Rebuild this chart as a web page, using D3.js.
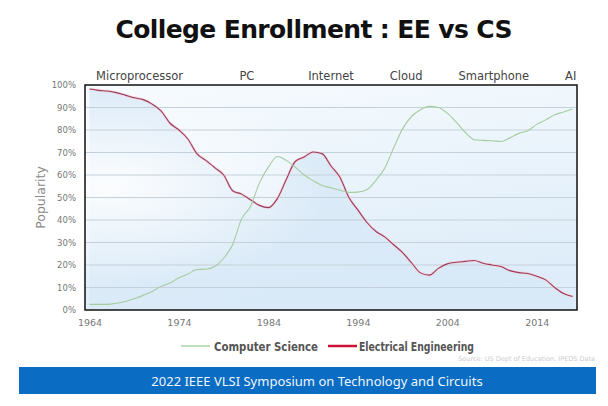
<!DOCTYPE html>
<html>
<head>
<meta charset="utf-8">
<script src="https://cdn.jsdelivr.net/npm/d3@7"></script>
<style>
  body { margin: 0; background: #fff; }
  svg { display: block; }
</style>
</head>
<body>
<script>
// data (percent of enrollment, by year)
var years = d3.range(1964, 2019);
var eeValues = [98.2, 97.6, 97.3, 96.6, 95.5, 94.3, 93.5, 91.5, 88.5, 83,
  80, 76, 69.5, 66.5, 63.3, 60, 53, 51.5, 49, 46.5,
  45.5, 49.5, 58, 66, 68, 70.2, 69.5, 64, 59, 50,
  44.5, 39, 35, 32.5, 29, 25.5, 21, 16.5, 15.5, 18.5,
  20.5, 21.2, 21.6, 22, 20.8, 20, 19.3, 17.5, 16.6, 16.2,
  15, 13.4, 10, 7.3, 6];
var csValues = [2.5, 2.5, 2.5, 3, 3.8, 5, 6.5, 8.2, 10.5, 12,
  14.3, 16, 18, 18.1, 19.3, 23, 29, 40.5, 46, 56.5,
  63.5, 68.2, 66.5, 63.5, 60, 57.5, 55.3, 54.3, 53.2, 52.3,
  52.4, 53.4, 57.5, 63, 72, 80.5, 86, 89, 90.5, 90,
  87.5, 83.5, 79, 75.7, 75.4, 75.2, 74.9, 76.5, 78.5, 79.7,
  82.5, 84.5, 86.8, 88, 89.3];
var xTicks = [1964, 1974, 1984, 1994, 2004, 2014];
var yTicks = [0, 10, 20, 30, 40, 50, 60, 70, 80, 90, 100];
var eras = ["Microprocessor", "PC", "Internet", "Cloud", "Smartphone", "AI"];
var eraYears = [1969.6, 1981.6, 1991, 1999.4, 2009.2, 2017.8];

var W = 608, H = 406;
var pLeft = 85, pRight = 577, pTop = 85, pBottom = 310;

var svg = d3.select("body").append("svg")
  .attr("width", W)
  .attr("height", H)
  .style("font-family", "'DejaVu Sans', sans-serif");

var defs = svg.append("defs");
var bg = defs.append("linearGradient").attr("id", "bg")
  .attr("x1", 0).attr("y1", 0).attr("x2", 0.3).attr("y2", 1);
bg.append("stop").attr("offset", "0%").attr("stop-color", "#f7fbfe");
bg.append("stop").attr("offset", "100%").attr("stop-color", "#deedf9");
var glow = defs.append("radialGradient").attr("id", "glow")
  .attr("cx", 0.05).attr("cy", 0.45).attr("r", 0.45);
glow.append("stop").attr("offset", "0%").attr("stop-color", "#ffffff").attr("stop-opacity", 0.9);
glow.append("stop").attr("offset", "100%").attr("stop-color", "#ffffff").attr("stop-opacity", 0);
var under = defs.append("linearGradient").attr("id", "under")
  .attr("x1", 0).attr("y1", 0).attr("x2", 0).attr("y2", 1);
under.append("stop").attr("offset", "0%").attr("stop-color", "#c6def3").attr("stop-opacity", 0.55);
under.append("stop").attr("offset", "100%").attr("stop-color", "#cfe3f5").attr("stop-opacity", 0.35);

var x = d3.scaleLinear().domain([1963.5, 2018.5]).range([pLeft, pRight]);
var y = d3.scaleLinear().domain([0, 100]).range([pBottom, pTop]);

// title
svg.append("text")
  .attr("x", 314).attr("y", 38)
  .attr("text-anchor", "middle")
  .attr("font-size", 25)
  .attr("font-weight", "bold")
  .attr("fill", "#111")
  .attr("textLength", 397)
  .text("College Enrollment : EE vs CS");

// plot background
svg.append("rect")
  .attr("x", pLeft).attr("y", pTop)
  .attr("width", pRight - pLeft).attr("height", pBottom - pTop)
  .attr("fill", "url(#bg)");

var ee = years.map((yr, i) => ({ year: yr, v: eeValues[i] }));
var cs = years.map((yr, i) => ({ year: yr, v: csValues[i] }));

svg.append("path")
  .datum(ee)
  .attr("fill", "url(#under)")
  .attr("d", d3.area().curve(d3.curveMonotoneX)
    .x(d => x(d.year)).y0(pBottom).y1(d => y(d.v)));

svg.append("rect")
  .attr("x", pLeft).attr("y", pTop)
  .attr("width", pRight - pLeft).attr("height", pBottom - pTop)
  .attr("fill", "url(#glow)");

// grid
svg.append("g")
  .selectAll("line")
  .data(yTicks.filter(t => t > 0 && t < 100))
  .enter().append("line")
  .attr("x1", pLeft).attr("x2", pRight)
  .attr("y1", d => y(d)).attr("y2", d => y(d))
  .attr("stroke", "#c5d1da")
  .attr("stroke-width", 1);

// y axis
var yAxis = svg.append("g")
  .attr("transform", "translate(" + (pLeft - 6) + ",0)")
  .call(d3.axisLeft(y).tickValues(yTicks).tickSize(0).tickFormat(d => d + "%"));
yAxis.select(".domain").remove();
yAxis.selectAll("text")
  .attr("font-size", 8.5)
  .attr("fill", "#777")
  .attr("font-family", "'DejaVu Sans', sans-serif");

// x axis
var xAxis = svg.append("g")
  .attr("transform", "translate(0," + (pBottom + 6) + ")")
  .call(d3.axisBottom(x).tickValues(xTicks).tickSize(0).tickFormat(d3.format("d")));
xAxis.select(".domain").remove();
xAxis.selectAll("text")
  .attr("font-size", 9.5)
  .attr("fill", "#777")
  .attr("font-family", "'DejaVu Sans', sans-serif");

svg.append("text")
  .attr("transform", "translate(45," + ((pTop + pBottom) / 2) + ") rotate(-90)")
  .attr("text-anchor", "middle")
  .attr("font-size", 12.5)
  .attr("fill", "#888")
  .text("Popularity");

// lines
var line = d3.line().curve(d3.curveMonotoneX)
  .x(d => x(d.year)).y(d => y(d.v));

svg.append("path").datum(ee)
  .attr("fill", "none")
  .attr("stroke", "#f3d2dc")
  .attr("stroke-width", 2.6)
  .attr("d", line);
svg.append("path").datum(ee)
  .attr("fill", "none")
  .attr("stroke", "#963e5c")
  .attr("stroke-width", 1.1)
  .attr("d", line);
svg.append("path").datum(cs)
  .attr("fill", "none")
  .attr("stroke", "#a5cc9f")
  .attr("stroke-width", 1.1)
  .attr("d", line);

// frame
svg.append("rect")
  .attr("x", pLeft).attr("y", pTop)
  .attr("width", pRight - pLeft).attr("height", pBottom - pTop)
  .attr("fill", "none")
  .attr("stroke", "#111")
  .attr("stroke-width", 1.5);

// era labels
svg.append("g")
  .selectAll("text")
  .data(eras)
  .enter().append("text")
  .attr("x", (d, i) => x(eraYears[i]))
  .attr("y", 80)
  .attr("text-anchor", "middle")
  .attr("font-size", 11.5)
  .attr("fill", "#444")
  .text(d => d);

// legend
var legend = [
  { name: "Computer Science", color: "#a9d4a4", x0: 181, x1: 210, tx: 214, w: 104 },
  { name: "Electrical Engineering", color: "#cc1236", x0: 328, x1: 357, tx: 359, w: 115 }
];
var lg = svg.append("g").selectAll("g").data(legend).enter().append("g");
lg.append("line")
  .attr("x1", d => d.x0).attr("x2", d => d.x1)
  .attr("y1", 346).attr("y2", 346)
  .attr("stroke", d => d.color)
  .attr("stroke-width", d => d.name === "Computer Science" ? 1.5 : 2.5);
lg.append("text")
  .attr("x", d => d.tx).attr("y", 350.5)
  .attr("font-size", 12)
  .attr("font-weight", "bold")
  .attr("fill", "#555")
  .attr("textLength", d => d.w)
  .attr("lengthAdjust", "spacingAndGlyphs")
  .text(d => d.name);

svg.append("text")
  .attr("x", 595).attr("y", 361)
  .attr("text-anchor", "end")
  .attr("font-size", 6.5)
  .attr("fill", "#ccc")
  .text("Source: US Dept of Education, IPEDS Data");

// banner
svg.append("rect")
  .attr("x", 19).attr("y", 367)
  .attr("width", 577).attr("height", 27)
  .attr("fill", "#0a6cc2");
svg.append("text")
  .attr("x", 317).attr("y", 386)
  .attr("text-anchor", "middle")
  .attr("font-size", 13)
  .attr("fill", "#eef6ff")
  .attr("font-family", "'Noto Sans', sans-serif")
  .text("2022 IEEE VLSI Symposium on Technology and Circuits");
</script>
</body>
</html>
